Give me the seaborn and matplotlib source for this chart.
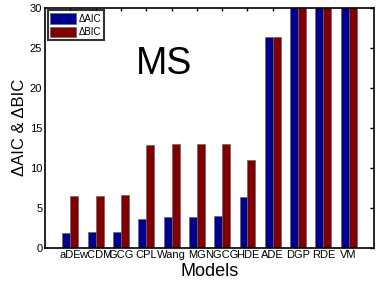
import numpy as np
import pandas as pd
import matplotlib
matplotlib.use("Agg")
import matplotlib.pyplot as plt
import seaborn as sns

models = ["aDE", "wCDM", "GCG", "CPL", "Wang", "MG", "NGCG", "HDE", "ADE", "DGP", "RDE", "VM"]
d_aic = [1.8, 1.9, 1.9, 3.6, 3.8, 3.8, 4.0, 6.3, 26.3, 35.0, 35.0, 35.0]
d_bic = [6.4, 6.5, 6.6, 12.8, 13.0, 13.0, 13.0, 11.0, 26.3, 35.0, 35.0, 35.0]

sns.set_theme(style="white")
plt.rcParams['font.family'] = ['Liberation Sans', 'DejaVu Sans']
plt.rcParams['text.color'] = 'black'
plt.rcParams['axes.labelcolor'] = 'black'
plt.rcParams['xtick.color'] = 'black'
plt.rcParams['ytick.color'] = 'black'

df = pd.DataFrame({
    "Model": models * 2,
    "value": d_aic + d_bic,
    "kind": ["\u0394AIC"] * len(models) + ["\u0394BIC"] * len(models),
})

fig = plt.figure(figsize=(3.82, 2.83), dpi=100)
ax = fig.add_axes([0.118, 0.125, 0.861, 0.848])

sns.barplot(data=df, x="Model", y="value", hue="kind", order=models,
            palette=["#00008f", "#800000"], saturation=1, width=0.63, ax=ax,
            edgecolor="#666666", linewidth=0.5, errorbar=None)

ax.set_xlim(-1, 12)
ax.set_ylim(0, 30)
ax.set_yticks(np.arange(0, 31, 5))
ax.tick_params(axis="both", direction="in", length=3, width=1, labelsize=8,
               top=True, right=True, pad=2)
ax.tick_params(axis="x", length=2)
for s in ax.spines.values():
    s.set_color("black")
    s.set_linewidth(1.2)

ax.set_xlabel("Models", fontsize=13, labelpad=2)
ax.set_ylabel("\u0394AIC & \u0394BIC", fontsize=12, labelpad=2)
ax.text(3.7, 23, "MS", fontsize=27, ha="center", va="center")

leg = ax.legend(loc="upper left", fontsize=7, frameon=True, fancybox=False,
                borderaxespad=0.25, handlelength=2.6, handleheight=1.3,
                labelspacing=0.3, handletextpad=0.3, borderpad=0.3)
leg.get_frame().set_edgecolor("black")
leg.get_frame().set_linewidth(1.5)

fig.savefig("out.png", dpi=100)
